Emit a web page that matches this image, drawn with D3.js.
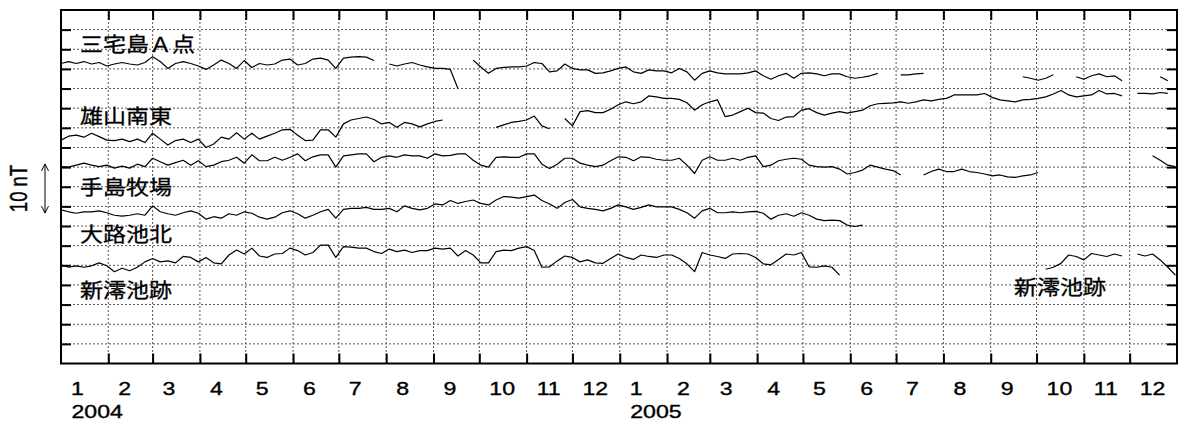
<!DOCTYPE html>
<html>
<head>
<meta charset="utf-8">
<script src="https://cdn.jsdelivr.net/npm/d3@7"></script>
<style>
  body { margin: 0; background: #fff; }
  svg { display: block; }
  .lat { font-family: "Liberation Sans", Arial, sans-serif; font-size: 18.5px; fill: #000; stroke: #000; stroke-width: 0.35px; }
  .jp { font-family: "Noto Sans CJK JP", sans-serif; font-size: 20px; fill: #000; stroke: #000; stroke-width: 0.3px; }
</style>
</head>
<body>
<div id="chart"></div>
<script>
var width = 1178;
var height = 422;

// station names and the level (nT) each trace is drawn around
var stations = ["三宅島Ａ点", "雄山南東", "手島牧場", "大路池北", "新澪池跡"];
var levels = [60, 44, 40, 32, 20];

// 5-day samples from 2004-01-01, deviation in nT (null = no data)
var miyakeA = [1.1,1.5,1.1,1.5,1.0,1.3,0.6,1.0,1.3,1.0,
  0.8,1.3,2.5,1.5,0.1,1.1,1.5,1.1,0.6,-0.1,
  0.8,1.8,1.1,0.1,1.7,0.3,1.1,0.8,1.0,1.8,
  2.0,0.8,1.1,2.0,2.2,1.8,0.1,2.2,2.4,2.5,
  2.4,1.7,null,1.0,0.6,1.0,1.3,0.8,0.4,0.1,
  0.1,-0.1,-4.0,null,1.8,0.4,-0.9,0.1,0.3,0.4,
  0.4,0.6,1.3,1.1,-0.6,-0.4,1.0,0.1,-0.2,-0.2,
  -0.9,-0.8,-0.4,0.1,0.4,-0.6,-0.9,-0.2,-0.4,-0.4,
  -0.8,0.1,-0.6,-2.3,-0.9,-0.4,-0.8,-1.0,-1.0,-1.0,
  -0.8,-0.4,-1.4,-2.1,-1.4,-0.9,-1.9,-0.9,-0.8,-1.0,
  -1.4,-1.0,-1.0,-1.6,-1.9,-1.7,-1.4,-0.9,null,null,
  -1.2,-1.2,-1.0,-0.9,null,null,null,null,null,null,
  null,null,null,null,null,null,-1.6,-1.9,-2.3,-1.9,
  -1.2,null,null,-1.6,-2.1,-1.4,-1.0,-1.6,-1.4,-2.4,
  null,null,null,null,-1.6,-2.4,null];

var oyamaSE = [1.5,2.3,2.5,2.1,2.9,2.2,1.5,1.4,1.7,1.2,
  1.7,1.0,2.9,1.7,0.5,1.4,1.7,1.0,1.7,0.0,
  0.7,2.1,1.7,3.0,1.7,2.9,1.7,2.3,2.9,3.6,
  3.7,2.5,1.4,1.5,3.6,3.6,2.1,4.8,5.6,5.9,
  6.2,5.7,4.8,5.1,4.1,5.1,4.8,4.2,4.8,5.3,
  5.6,null,null,null,null,null,null,4.1,4.6,5.1,
  5.3,5.6,6.4,4.4,3.8,null,5.9,4.4,7.3,7.5,
  7.1,7.1,7.8,8.7,9.3,8.9,9.3,10.5,10.3,10.0,
  10.0,9.8,9.1,7.6,8.7,9.3,9.7,6.3,6.6,7.3,
  8.0,7.1,7.0,5.9,5.5,6.2,6.3,7.6,7.9,7.1,
  6.6,7.0,7.3,7.0,7.3,7.6,8.5,8.9,9.0,9.1,
  9.3,9.0,9.3,9.7,9.5,9.8,10.0,10.7,10.7,10.7,
  10.7,11.0,10.2,9.7,9.5,9.3,9.7,9.8,10.0,10.3,
  10.9,11.6,10.7,10.3,10.5,10.7,11.6,10.9,11.0,10.5,
  null,11.0,11.0,10.9,11.2,11.0,null];

var tejima = [0.1,0.0,0.4,0.8,0.4,0.1,0.4,-0.2,0.2,-0.2,
  0.6,0.1,1.8,1.1,0.4,0.9,1.4,0.4,1.3,0.1,
  0.4,1.1,1.4,2.0,0.8,2.5,1.3,1.3,2.0,1.4,
  2.0,2.7,1.3,2.1,2.5,2.5,0.0,2.3,2.5,2.7,
  2.7,1.1,2.0,2.3,2.0,2.5,2.3,2.3,1.8,2.7,
  2.3,2.4,2.7,2.7,1.4,0.4,0.0,2.0,2.1,2.0,
  2.0,2.7,2.7,0.6,-0.3,0.6,1.8,1.8,0.8,0.4,
  0.1,0.4,1.3,2.1,2.0,1.3,2.1,2.0,1.6,1.4,
  1.4,1.8,0.4,-1.3,1.4,2.1,1.4,1.4,1.8,1.4,
  2.0,2.3,0.1,0.4,1.3,1.6,1.8,1.6,0.4,0.1,
  0.0,0.1,-0.4,-1.4,-1.1,-0.6,0.4,0.0,-0.4,-0.7,
  -1.6,null,null,-1.6,-0.9,-0.4,-0.9,-0.9,-0.4,-0.9,
  -1.1,-1.4,-1.8,-1.6,-2.0,-2.1,-1.8,-1.6,-1.1,null,
  null,null,null,null,null,null,null,null,null,null,
  null,null,null,2.3,1.4,0.4,0.1];

var tairo = [-0.7,-1.1,-1.4,-1.1,-1.1,-0.9,-1.3,-1.8,-2.0,-1.8,
  -1.5,-1.8,0.1,-1.1,-1.5,-1.8,-1.3,-0.9,-1.4,-2.6,
  -2.1,-2.4,-1.5,-1.8,-1.1,-1.4,-2.2,-2.6,-2.2,-1.3,
  -0.9,-1.5,-2.4,-1.8,-1.1,-0.6,-2.4,-0.6,-0.4,-0.4,
  -0.2,-0.6,-0.6,-0.4,-1.1,0.1,-0.4,-0.7,-0.4,0.5,
  0.3,1.2,0.6,1.0,1.3,0.6,0.3,1.3,2.0,1.9,
  1.7,2.0,2.3,1.2,0.5,-0.4,0.8,1.4,-0.1,-0.4,
  -0.6,-0.9,-0.4,0.3,-0.1,-0.6,-0.2,0.3,-0.1,-0.1,
  -0.1,-0.6,-1.3,-2.4,-0.9,-0.4,-1.3,-1.3,-1.1,-1.3,
  -1.1,-1.0,-1.4,-2.6,-1.8,-1.5,-2.0,-1.3,-1.8,-2.6,
  -2.9,-2.8,-2.9,-3.8,-4.1,-3.8,null,null,null,null,
  null,null,null,null,null,null,null,null,null,null,
  null,null,null,null,null,null,null,null,null,null,
  null,null,null,null,null,null,null,null,null,null,
  null,null,null,null,null,null,null];

var shinmio = [0.1,-0.4,-0.1,-0.4,-0.1,0.5,-0.1,-1.3,-0.6,-1.1,
  -0.4,0.7,1.4,0.7,0.9,0.5,1.8,1.6,0.7,1.6,
  0.5,0.3,2.1,3.1,2.3,3.5,1.9,1.6,2.3,2.4,
  3.5,3.0,2.1,2.6,4.1,4.1,1.6,3.8,3.7,3.5,
  3.5,2.8,2.4,3.3,2.8,3.1,2.6,3.0,3.0,3.5,
  3.3,3.5,1.9,3.0,2.1,0.5,0.5,2.8,3.1,3.0,
  3.5,3.8,3.0,-0.4,-0.3,0.9,1.9,1.6,0.7,1.1,
  0.5,0.4,1.4,2.3,1.6,1.2,2.1,1.8,1.6,2.1,
  2.1,1.4,0.3,-1.3,2.6,2.1,1.8,1.4,2.3,2.4,
  2.3,1.6,0.3,0.1,1.2,2.3,2.1,2.6,-0.3,-0.4,
  -0.1,-0.4,-2.0,null,null,null,null,null,null,null,
  null,null,null,null,null,null,null,null,null,null,
  null,null,null,null,null,null,null,null,null,-0.8,
  -0.4,0.4,2.1,1.8,1.1,2.4,2.1,1.8,2.3,1.9,
  null,2.3,1.9,2.3,1.1,-0.4,-2.0];

var series = [miyakeA, oyamaSE, tejima, tairo, shinmio];

var t0 = new Date(Date.UTC(2004, 0, 1));
var t1 = new Date(Date.UTC(2006, 0, 1));
var dates = d3.range(147).map(function(i) { return d3.utcDay.offset(t0, i * 5); });

var plotLeft = 61, plotRight = 1177, plotTop = 10, plotBottom = 363.5;

var svg = d3.select("#chart").append("svg").attr("width", width).attr("height", height);

var x = d3.scaleUtc().domain([t0, t1]).range([plotLeft, plotRight]);
var y = d3.scaleLinear().domain([0, 72]).range([plotBottom, plotTop]);

var months = d3.utcMonth.range(t0, t1);
var inner = months.slice(1);
var yticks = d3.range(4, 72, 4);

// dotted grid
svg.append("g").selectAll("line").data(inner).enter().append("line")
  .attr("x1", function(d) { return x(d); }).attr("x2", function(d) { return x(d); })
  .attr("y1", plotTop).attr("y2", plotBottom)
  .attr("stroke", "#555").attr("stroke-width", 1).attr("stroke-dasharray", "2,2");

svg.append("g").selectAll("line").data(yticks).enter().append("line")
  .attr("x1", plotLeft).attr("x2", plotRight)
  .attr("y1", function(d) { return y(d); }).attr("y2", function(d) { return y(d); })
  .attr("stroke", "#555").attr("stroke-width", 1).attr("stroke-dasharray", "2,2");

// inward ticks on all four sides
var tk = 10;
svg.append("g").attr("transform", "translate(0," + plotTop + ")")
  .call(d3.axisBottom(x).tickValues(inner).tickSize(tk).tickFormat(""));
svg.append("g").attr("transform", "translate(0," + plotBottom + ")")
  .call(d3.axisTop(x).tickValues(inner).tickSize(tk).tickFormat(""));
svg.append("g").attr("transform", "translate(" + plotLeft + ",0)")
  .call(d3.axisRight(y).tickValues(yticks).tickSize(tk).tickFormat(""));
svg.append("g").attr("transform", "translate(" + plotRight + ",0)")
  .call(d3.axisLeft(y).tickValues(yticks).tickSize(tk).tickFormat(""));

svg.selectAll(".domain").remove();
svg.selectAll(".tick line").attr("stroke", "#000").attr("stroke-width", 2);

// frame
svg.append("rect").attr("x", plotLeft).attr("y", plotTop)
  .attr("width", plotRight - plotLeft).attr("height", plotBottom - plotTop)
  .attr("fill", "none").attr("stroke", "#000").attr("stroke-width", 2);

// traces
series.forEach(function(vals, k) {
  var line = d3.line()
    .defined(function(d) { return d != null; })
    .x(function(d, i) { return x(dates[i]); })
    .y(function(d) { return y(levels[k] + d); });
  svg.append("path").datum(vals)
    .attr("d", line)
    .attr("fill", "none").attr("stroke", "#000").attr("stroke-width", 1.2)
    .attr("stroke-linejoin", "round");
});

// month and year labels (text is stretched sideways like the source)
var sx = 1.25;
var fmt = d3.utcFormat("%-m");
svg.append("g").selectAll("text").data(months).enter().append("text")
  .attr("class", "lat")
  .attr("transform", function(d) { return "translate(" + (x(d) + 10) + ",395) scale(" + sx + ",1)"; })
  .text(function(d) { return fmt(d); });

[t0, new Date(Date.UTC(2005, 0, 1))].forEach(function(d) {
  svg.append("text").attr("class", "lat")
    .attr("transform", "translate(" + (x(d) + 10.5) + ",418) scale(" + sx + ",1)")
    .text(d3.utcFormat("%Y")(d));
});

// station labels
var labelPos = [[80, 51.5], [80, 124], [80, 195], [80, 241.5], [80, 298], [1014, 295]];
var labelText = stations.concat([stations[4]]);
labelPos.forEach(function(p, i) {
  svg.append("text").attr("class", "jp")
    .attr("transform", "translate(" + p[0] + "," + p[1] + ") scale(1.15,1)")
    .text(labelText[i]);
});

// 10 nT scale arrow
var mid = 188.5;
var half = (y(0) - y(10)) / 2;
var ax = 45;
svg.append("line").attr("x1", ax).attr("x2", ax).attr("y1", mid - half).attr("y2", mid + half)
  .attr("stroke", "#000").attr("stroke-width", 1);
svg.append("path")
  .attr("d", "M" + (ax - 3.5) + "," + (mid - half + 7) + "L" + ax + "," + (mid - half) + "L" + (ax + 3.5) + "," + (mid - half + 7) +
    "M" + (ax - 3.5) + "," + (mid + half - 7) + "L" + ax + "," + (mid + half) + "L" + (ax + 3.5) + "," + (mid + half - 7))
  .attr("fill", "none").attr("stroke", "#000").attr("stroke-width", 1);

svg.append("text").attr("class", "lat")
  .attr("transform", "translate(27," + mid + ") scale(" + sx + ",1) rotate(-90)")
  .attr("text-anchor", "middle")
  .text("10 nT");
</script>
</body>
</html>
